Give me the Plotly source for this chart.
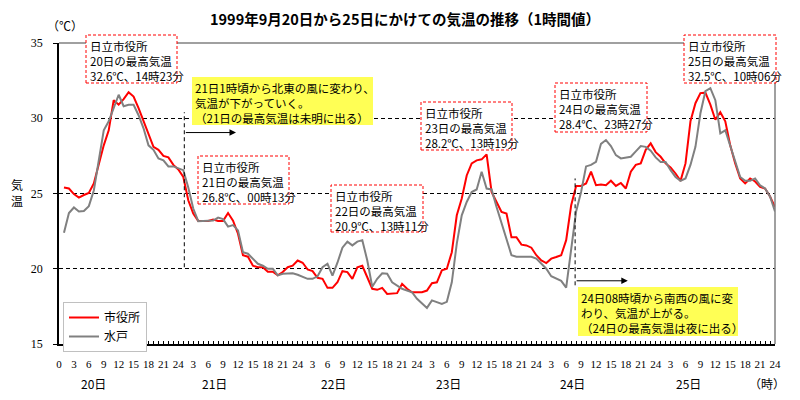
import plotly.graph_objects as go

# ---------------- data ----------------
hours = list(range(1, 145))  # 20日1時 ... 25日24時

shiyakusho = [
    25.4, 25.33, 24.96, 24.73, 24.9, 25.04, 25.67, 27.0, 28.2, 29.2, 31.2, 30.9,
    31.27, 31.73, 31.44, 30.67, 29.78, 29.0, 28.1, 27.9, 27.5, 27.4, 26.9, 26.6,
    26.1, 24.55, 23.67, 23.18, 23.18, 23.18, 23.27, 23.18, 23.18, 23.7, 23.2, 22.33,
    20.9, 20.8, 20.2, 20.1, 20.1, 19.8, 19.8, 19.56, 19.78, 20.1, 20.2, 20.55,
    20.4, 19.95, 19.84, 19.4, 19.33, 18.73, 18.73, 19.1, 19.84, 19.78, 19.33, 20.1,
    20.2, 19.44, 18.67, 18.6, 18.73, 18.33, 18.33, 18.38, 19.0, 18.67, 18.44, 18.45,
    18.44, 18.55, 19.04, 19.1, 19.9, 20.0, 21.1, 23.55, 24.67, 26.2, 27.0, 27.2,
    27.27, 27.6, 25.1, 24.44, 23.78, 23.67, 22.1, 22.1, 21.6, 21.55, 21.4, 20.9,
    20.55, 20.38, 20.67, 20.78, 20.9, 21.9, 24.2, 25.5, 25.5, 25.67, 26.45, 25.55,
    25.6, 25.55, 25.85, 25.5, 25.7, 25.33, 26.45, 26.9, 27.0, 27.9, 28.33, 27.75,
    27.44, 27.0, 26.73, 26.33, 25.84, 27.0, 29.8, 31.0, 31.67, 31.7, 30.9, 29.9,
    30.4, 29.8, 28.2, 27.0, 26.0, 25.67, 26.0, 25.8, 25.44, 25.33, 24.8, 24.1,
]

mito = [
    22.4, 23.7, 24.07, 23.8, 23.84, 24.16, 25.2, 27.2, 29.2, 29.8, 30.7, 31.56,
    30.8, 30.9, 30.9, 30.2, 29.33, 28.2, 27.9, 27.33, 27.2, 26.8, 26.8, 26.67,
    26.55, 25.4, 24.0, 23.16, 23.16, 23.16, 23.2, 23.4, 23.3, 22.8, 22.9, 22.55,
    21.1, 21.0, 20.67, 20.33, 20.2, 20.0, 20.0, 19.56, 19.67, 19.7, 19.7, 19.6,
    19.44, 19.33, 19.33, 19.5, 20.1, 20.33, 19.55, 20.4, 21.4, 21.8, 21.55, 21.8,
    21.9, 20.55, 18.8, 19.33, 19.7, 19.67, 19.1, 18.9, 18.67, 18.55, 18.44, 18.0,
    17.67, 17.4, 17.9, 17.8, 17.67, 17.8, 19.1, 21.67, 23.55, 24.44, 25.1, 25.27,
    26.44, 25.33, 25.27, 24.1, 23.0, 21.9, 20.9, 20.8, 20.8, 20.8, 20.8, 20.67,
    20.33, 20.0, 19.5, 19.33, 19.2, 18.75, 21.44, 23.8, 25.1, 26.8, 26.9, 27.1,
    28.3, 28.55, 28.15, 27.55, 27.33, 27.4, 27.44, 27.8, 28.15, 28.1, 27.84, 27.4,
    27.1, 27.1, 26.55, 26.1, 25.84, 26.0, 26.9, 28.1, 30.33, 31.8, 32.0, 31.2,
    29.0, 29.2, 28.2, 27.2, 26.1, 25.84, 25.84, 26.0, 25.55, 25.33, 24.8, 23.8,
]

tick_hours = list(range(0, 145, 3))
tick_labels = ["0" if h == 0 else str((h - 1) % 24 + 1) for h in tick_hours]
day_labels = ["20日", "21日", "22日", "23日", "24日", "25日"]

max_notes = [
    "日立市役所<br>20日の最高気温<br>32.6℃、14時23分",
    "日立市役所<br>21日の最高気温<br>26.8℃、00時13分",
    "日立市役所<br>22日の最高気温<br>20.9℃、13時11分",
    "日立市役所<br>23日の最高気温<br>28.2℃、13時19分",
    "日立市役所<br>24日の最高気温<br>28.4℃、23時27分",
    "日立市役所<br>25日の最高気温<br>32.5℃、10時06分",
]
wind_notes = [
    "21日1時頃から北東の風に変わり、<br>気温が下がっていく。<br>（21日の最高気温は未明に出る）",
    "24日08時頃から南西の風に変<br>わり、気温が上がる。<br>（24日の最高気温は夜に出る）",
]

# ---------------- layout helpers (pixel -> paper) ----------------
L, R, T, B = 59, 775, 43, 344
W, H = 800, 400


def px(x):
    return (x - L) / (R - L)


def py(y):
    return (B - y) / (B - T)


JP = "Noto Sans CJK JP"
SERIF = "Liberation Serif"

fig = go.Figure()
fig.add_trace(go.Scatter(x=hours, y=shiyakusho, mode="lines", name="市役所",
                         line=dict(color="#ff0000", width=2)))
fig.add_trace(go.Scatter(x=hours, y=mito, mode="lines", name="水戸",
                         line=dict(color="#808080", width=2)))

shapes = []
annotations = []

# frame: top and right in gray
shapes.append(dict(type="line", xref="paper", yref="paper", x0=0, x1=1, y0=1, y1=1,
                   line=dict(color="#808080", width=1.5), layer="above"))
shapes.append(dict(type="line", xref="paper", yref="paper", x0=1, x1=1, y0=0, y1=1,
                   line=dict(color="#808080", width=1.5), layer="above"))

# wind-change vertical dashed lines + arrows
for (xv, y0, y1, yarr, xend) in [(25.2, 20.1, 30.4, 29.05, 35.6),
                                  (103.8, 18.9, 26.0, 19.2, 114.4)]:
    shapes.append(dict(type="line", xref="x", yref="y", x0=xv, x1=xv, y0=y0, y1=y1,
                       line=dict(color="black", width=1, dash="4px,3px"), layer="above"))
    annotations.append(dict(x=xend, y=yarr, ax=xv, ay=yarr, xref="x", yref="y",
                            axref="x", ayref="y", showarrow=True, arrowhead=2,
                            arrowsize=1.3, arrowwidth=1, arrowcolor="black", text=""))

# red dashed boxes with max temperature notes (pixel boxes)
boxes = [(86, 35, 177, 83), (198, 156, 289, 204), (331, 185, 423, 232),
         (421, 102, 512, 150), (555, 83, 647, 132), (684, 35, 776, 83)]
for (x0, y0, x1, y1), txt in zip(boxes, max_notes):
    shapes.append(dict(type="rect", xref="paper", yref="paper",
                       x0=px(x0), x1=px(x1), y0=py(y1), y1=py(y0),
                       line=dict(color="#ff0000", width=1, dash="3px,2px"),
                       fillcolor="white", layer="above"))
    annotations.append(dict(x=px(x0 + 2), y=py(y0 + 1), xref="paper", yref="paper",
                            xanchor="left", yanchor="top", align="left", showarrow=False,
                            text=txt, font=dict(family=JP, size=11.5, color="black")))

# yellow notes
yboxes = [(192, 77, 373, 125), (578, 287, 738, 336)]
for (x0, y0, x1, y1), txt in zip(yboxes, wind_notes):
    shapes.append(dict(type="rect", xref="paper", yref="paper",
                       x0=px(x0), x1=px(x1), y0=py(y1), y1=py(y0),
                       line=dict(width=0), fillcolor="#ffff55", layer="above"))
    annotations.append(dict(x=px(x0 + 1), y=py(y0 + 1), xref="paper", yref="paper",
                            xanchor="left", yanchor="top", align="left", showarrow=False,
                            text=txt, font=dict(family=JP, size=11.5, color="black")))

# day labels
day_pos = [7.0, 31.2, 55.3, 78.4, 103.2, 126.7]
for d, lab in zip(day_pos, day_labels):
    annotations.append(dict(x=d, y=py(383), xref="x", yref="paper", showarrow=False,
                            xanchor="center", yanchor="middle",
                            text=lab, font=dict(family=JP, size=12, color="black")))
annotations.append(dict(x=px(767), y=py(383), xref="paper", yref="paper", showarrow=False,
                        xanchor="center", yanchor="middle",
                        text="（時）", font=dict(family=JP, size=12, color="black")))

# unit and axis title
annotations.append(dict(x=px(65), y=py(25), xref="paper", yref="paper", showarrow=False,
                        xanchor="center", yanchor="middle",
                        text="（℃）", font=dict(family=JP, size=12, color="black")))
annotations.append(dict(x=px(17), y=py(192), xref="paper", yref="paper", showarrow=False,
                        xanchor="center", yanchor="middle",
                        text="気<br>温", font=dict(family=JP, size=12, color="black")))

fig.update_layout(
    width=W, height=H,
    margin=dict(l=L, r=W - R, t=T, b=H - B, pad=0, autoexpand=False),
    paper_bgcolor="white", plot_bgcolor="white",
    title=dict(text="<b>1999年9月20日から25日にかけての気温の推移（1時間値）</b>",
               x=405 / W, xanchor="center", y=1 - 20 / H, yanchor="middle",
               font=dict(family=JP, size=14.5, color="black")),
    showlegend=True,
    legend=dict(x=px(63), y=py(302), xanchor="left", yanchor="top",
                bgcolor="white", bordercolor="#c0c0c0", borderwidth=1,
                font=dict(family=JP, size=12, color="black"),
                tracegroupgap=0, itemwidth=30),
    shapes=shapes, annotations=annotations,
    xaxis=dict(range=[0, 144], tickvals=tick_hours, ticktext=tick_labels,
               ticks="inside", ticklen=3, tickcolor="black",
               minor=dict(dtick=1, tick0=0, ticks="inside", ticklen=3, tickcolor="black"),
               showgrid=False, zeroline=False, showline=True, linecolor="black", linewidth=1.5,
               tickfont=dict(family=SERIF, size=11, color="black"), ticklabelstandoff=9),
    yaxis=dict(range=[15, 35], tickvals=[15, 20, 25, 30, 35], ticks="outside", ticklen=4,
               tickcolor="black", showgrid=True, gridcolor="black", griddash="4px,3px",
               gridwidth=1, zeroline=False, showline=True, linecolor="black", linewidth=1.5,
               tickfont=dict(family=SERIF, size=12, color="black"), ticklabelstandoff=8),
)

fig.write_html("out.html", config={"displayModeBar": False},
               post_script="document.body.style.margin='0';document.body.style.overflow='hidden';")
